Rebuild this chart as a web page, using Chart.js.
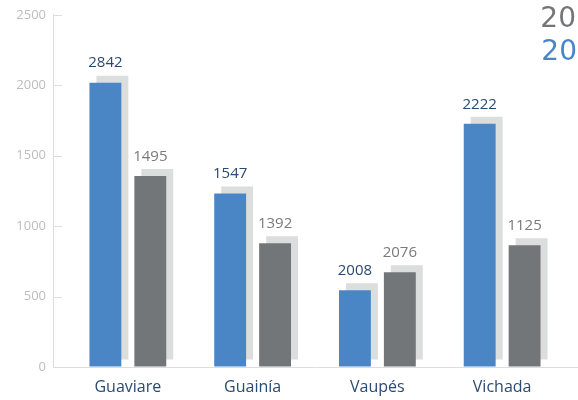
<!DOCTYPE html>
<html lang="es">
<head>
    <meta charset="UTF-8">
    <title>Guaviare, Guainía, Vaupés, Vichada</title>
    <script src="https://cdn.jsdelivr.net/npm/chart.js"></script>
    <style>
        body {
            margin: 0;
            background: #fff;
        }
        #wrap {
            width: 578px;
            height: 400px;
        }
    </style>
</head>
<body>
    <div id="wrap"><canvas id="deptChart"></canvas></div>

    <script>
        const departments = ['Guaviare', 'Guainía', 'Vaupés', 'Vichada'];
        const seriesNames = ['20', '20'];
        // bar heights as drawn
        const blueValues = [2018, 1232, 545, 1726];
        const grayValues = [1355, 878, 673, 864];
        // numbers printed above the bars
        const blueLabels = ['2842', '1547', '2008', '2222'];
        const grayLabels = ['1495', '1392', '2076', '1125'];
        const yTicks = [0, 500, 1000, 1500, 2000, 2500];

        const BLUE = '#4a86c6';
        const GRAY = '#737679';
        const NAVY = '#2b4a70';

        const toPoints = vals => vals.map((v, i) => ({ x: i, y: v }));

        // flat offset shadow behind each bar
        const barShadow = {
            id: 'barShadow',
            beforeDatasetDraw(chart) {
                const ctx = chart.ctx;
                ctx.save();
                ctx.shadowColor = '#dcdddd';
                ctx.shadowOffsetX = 7;
                ctx.shadowOffsetY = -7;
                ctx.shadowBlur = 0;
            },
            afterDatasetDraw(chart) {
                chart.ctx.restore();
            }
        };

        const valueLabels = {
            id: 'valueLabels',
            afterDatasetsDraw(chart) {
                const ctx = chart.ctx;
                ctx.save();
                ctx.font = '15px "Open Sans"';
                ctx.textAlign = 'center';
                ctx.textBaseline = 'bottom';
                chart.data.datasets.forEach((ds, di) => {
                    const texts = di === 0 ? blueLabels : grayLabels;
                    ctx.fillStyle = di === 0 ? NAVY : '#7a7a7a';
                    chart.getDatasetMeta(di).data.forEach((bar, i) => {
                        ctx.fillText(texts[i], bar.x, bar.y - 12);
                    });
                });
                ctx.restore();
            }
        };

        // short tick marks pointing into the plot + corner legend
        const extras = {
            id: 'extras',
            afterDraw(chart) {
                const ctx = chart.ctx;
                const y = chart.scales.y;
                ctx.save();
                ctx.strokeStyle = '#dddddd';
                ctx.lineWidth = 1;
                y.ticks.forEach(t => {
                    const py = Math.round(y.getPixelForValue(t.value)) + 0.5;
                    ctx.beginPath();
                    ctx.moveTo(chart.chartArea.left, py);
                    ctx.lineTo(chart.chartArea.left + 9, py);
                    ctx.stroke();
                });

                ctx.font = '28px "DejaVu Sans"';
                ctx.textAlign = 'right';
                ctx.textBaseline = 'alphabetic';
                ctx.fillStyle = GRAY;
                ctx.fillText(seriesNames[1], 576, 27);
                ctx.fillStyle = BLUE;
                ctx.fillText(seriesNames[0], 577, 60);
                ctx.restore();
            }
        };

        new Chart(document.getElementById('deptChart'), {
            type: 'bar',
            data: {
                datasets: [{
                    label: seriesNames[0],
                    data: toPoints(blueValues),
                    backgroundColor: BLUE
                }, {
                    label: seriesNames[1],
                    data: toPoints(grayValues),
                    backgroundColor: GRAY
                }]
            },
            options: {
                responsive: true,
                maintainAspectRatio: false,
                animation: false,
                categoryPercentage: 0.72,
                barPercentage: 0.71,
                layout: {
                    padding: { top: 14, right: 1, left: 0, bottom: 0 }
                },
                plugins: {
                    legend: { display: false },
                    tooltip: { enabled: false }
                },
                scales: {
                    x: {
                        type: 'linear',
                        offset: false,
                        min: -0.6,
                        max: 3.6,
                        afterBuildTicks: scale => {
                            scale.ticks = departments.map((d, i) => ({ value: i }));
                        },
                        afterFit: scale => { scale.height = 33; },
                        grid: { display: false, drawTicks: false, offset: false },
                        border: { color: '#dddddd' },
                        ticks: {
                            padding: 11,
                            color: NAVY,
                            font: { family: 'Open Sans', size: 16 },
                            callback: v => departments[v] || ''
                        }
                    },
                    y: {
                        min: 0,
                        max: 2500,
                        afterBuildTicks: scale => {
                            scale.ticks = yTicks.map(v => ({ value: v }));
                        },
                        afterFit: scale => { scale.width = 53; },
                        grid: { drawOnChartArea: false, drawTicks: false },
                        border: { color: '#dddddd' },
                        ticks: {
                            padding: 7,
                            color: '#bdbdbd',
                            font: { family: 'Open Sans', size: 13 },
                            callback: v => String(v)
                        }
                    }
                }
            },
            plugins: [barShadow, valueLabels, extras]
        });
    </script>
</body>
</html>
